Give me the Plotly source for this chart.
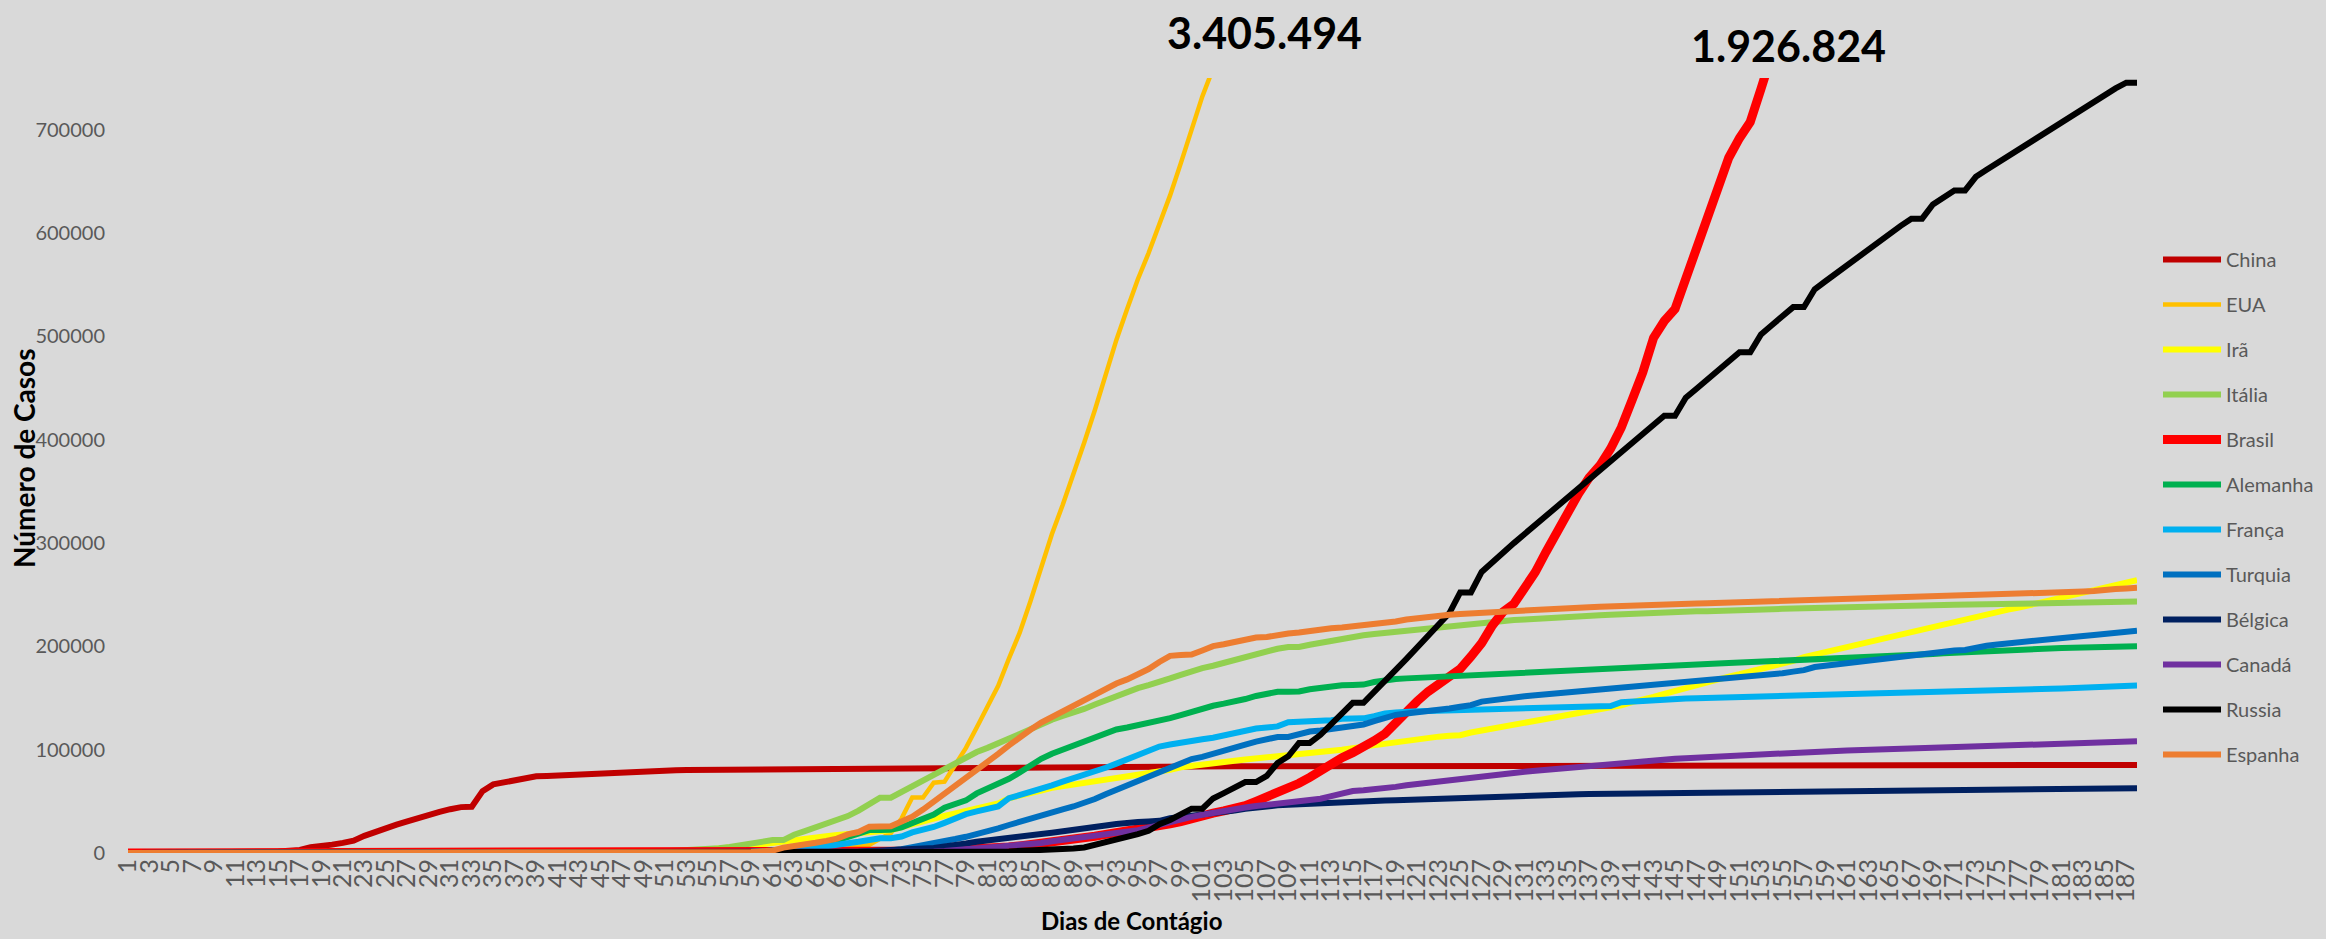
import plotly.graph_objects as go

# ---------------- data (cases in thousands, day 1..188) ----------------
days = list(range(1, 189))

china_k = [
    0, 0, 0, 0, 0, 0, 0, 0, 0, 0,
    0, 0.5, 0.6, 0.9, 1.4, 2.1, 2.9, 5.5, 6.1, 8.1,
    9.8, 11.9, 16.6, 19.7, 23.7, 27.4, 30.6, 34.1, 36.8, 39.8,
    42.4, 44.4, 44.8, 59.9, 66.4, 68.4, 70.5, 72.4, 74.2, 74.6,
    75.1, 75.6, 77.0, 77.0, 77.2, 77.8, 78.2, 78.6, 78.9, 79.4,
    79.9, 80.2, 80.3, 80.4, 80.6, 80.7, 80.7, 80.8, 80.8, 80.9,
    80.9, 81.0, 81.0, 81.0, 81.1, 81.1, 81.2, 81.3, 81.4, 81.5,
    81.6, 81.7, 81.7, 81.8, 81.9, 82.0, 82.1, 82.2, 82.3, 82.4,
    82.5, 82.6, 82.7, 82.8, 82.9, 82.9, 83.0, 83.0, 83.1, 83.1,
    83.1, 83.2, 83.2, 83.2, 83.3, 83.3, 83.4, 83.8, 83.8, 83.8,
    83.8, 83.9, 83.9, 83.9, 83.9, 83.9, 83.9, 83.9, 83.9, 83.9,
    83.9, 83.9, 83.9, 83.9, 83.9, 83.9, 84.0, 84.0, 84.0, 84.0,
    84.0, 84.0, 84.0, 84.0, 84.0, 84.0, 84.1, 84.1, 84.1, 84.1,
    84.1, 84.1, 84.1, 84.1, 84.1, 84.1, 84.1, 84.1, 84.1, 84.1,
    84.2, 84.2, 84.2, 84.2, 84.2, 84.2, 84.2, 84.2, 84.2, 84.2,
    84.2, 84.2, 84.2, 84.2, 84.2, 84.3, 84.3, 84.4, 84.4, 84.5,
    84.5, 84.5, 84.6, 84.6, 84.7, 84.7, 84.7, 84.8, 84.8, 84.8,
    84.8, 84.8, 84.9, 84.9, 84.9, 84.9, 84.9, 85.0, 85.0, 85.0,
    85.0, 85.0, 85.0, 85.1, 85.1, 85.1, 85.2, 85.2,
]

eua_k = [
    0, 0, 0, 0, 0, 0, 0, 0, 0, 0,
    0, 0, 0, 0, 0, 0, 0, 0, 0, 0,
    0, 0, 0, 0, 0, 0, 0, 0, 0, 0,
    0, 0, 0, 0, 0, 0, 0, 0, 0, 0,
    0, 0, 0, 0, 0, 0, 0, 0, 0, 0,
    0, 0, 0.03, 0.05, 0.1, 0.15, 0.2, 0.3, 0.4, 0.5,
    0.7, 1.0, 1.3, 1.7, 2.2, 2.7, 3.5, 4.6, 6.4, 7.8,
    13.7, 19.1, 33.3, 53.7, 53.7, 68.0, 69.0, 85.0, 101.7, 121.5,
    140.9, 161.8, 188.2, 213.2, 243.6, 275.4, 308.7, 336.8, 366.3, 397.1,
    428.7, 462.8, 496.5, 526.4, 555.3, 580.6, 607.7, 636.4, 667.6, 699.7,
    732.2, 759.1, 784.3,
]

ira_k = [
    0, 0, 0, 0, 0, 0, 0, 0, 0, 0,
    0, 0, 0, 0, 0, 0, 0, 0, 0, 0,
    0, 0, 0, 0, 0, 0, 0, 0, 0, 0,
    0, 0, 0, 0, 0, 0, 0, 0, 0, 0,
    0, 0, 0.02, 0.03, 0.04, 0.06, 0.1, 0.14, 0.25, 0.39,
    0.6, 1.0, 1.5, 2.3, 2.9, 3.5, 4.7, 5.8, 7.2, 8.5,
    10.0, 11.0, 12.5, 14.0, 15.0, 16.2, 17.4, 18.4, 19.6, 20.6,
    21.6, 22.0, 25.0, 28.0, 31.0, 34.0, 36.0, 38.3, 40.5, 42.5,
    45.0, 48.0, 53.0, 56.0, 58.5, 60.5, 63.0, 64.6, 66.2, 68.2,
    69.0, 70.5, 72.0, 73.3, 74.9, 76.4, 78.5, 80.5, 83.0, 84.5,
    86.0, 87.0, 88.2, 89.3, 90.5, 91.5, 92.6, 93.7, 94.6, 95.6,
    96.5, 97.0, 98.5, 100.0, 101.5, 103.0, 104.2, 105.6, 107.0, 108.4,
    109.5, 110.8, 112.6, 113.5, 114.0, 116.6, 118.4, 120.2, 122.4, 124.6,
    125.5, 127.5, 129.0, 131.0, 133.5, 135.0, 137.0, 139.0, 141.0, 143.0,
    146.0, 148.0, 151.0, 154.0, 157.0, 160.0, 162.5, 165.0, 168.0, 170.7,
    173.0, 175.5, 178.0, 180.5, 183.0, 186.0, 189.5, 192.0, 194.5, 197.0,
    199.5, 202.0, 204.5, 207.0, 209.5, 211.5, 214.0, 216.0, 218.5, 221.0,
    223.0, 225.5, 228.0, 230.5, 233.0, 235.5, 237.5, 240.0, 242.5, 245.0,
    247.5, 250.0, 252.5, 255.0, 257.5, 260.0, 262.2, 264.0,
]

italia_k = [
    0, 0, 0, 0, 0, 0, 0, 0, 0, 0,
    0, 0, 0, 0, 0, 0, 0, 0, 0, 0,
    0, 0, 0, 0, 0, 0, 0, 0, 0, 0,
    0, 0, 0, 0, 0, 0, 0, 0, 0, 0,
    0, 0.02, 0.06, 0.16, 0.23, 0.32, 0.45, 0.66, 0.89, 1.13,
    1.69, 2.04, 2.50, 3.09, 3.86, 4.64, 5.88, 7.38, 9.17, 10.15,
    12.46, 12.46, 17.66, 21.16, 24.75, 27.98, 31.51, 35.71, 41.04, 47.02,
    53.58, 53.58, 59.14, 63.93, 69.18, 74.39, 80.59, 86.50, 92.47, 97.69,
    101.74, 105.79, 110.57, 115.24, 119.83, 124.63, 128.95, 132.55, 135.59, 139.42,
    143.63, 147.58, 152.27, 156.36, 159.52, 162.49, 165.16, 168.94, 172.43, 175.93,
    178.97, 181.23, 183.96, 187.33, 189.97, 192.99, 195.35, 197.68, 199.41, 199.41,
    201.51, 203.59, 205.46, 207.43, 209.33, 210.72, 211.94, 213.01, 214.46, 215.86,
    217.19, 218.27, 219.07, 219.81, 221.22, 222.10, 223.10, 223.89, 224.76, 225.44,
    225.89, 226.70, 227.36, 228.01, 228.66, 229.33, 229.86, 230.16, 230.56, 231.14,
    231.73, 232.25, 232.66, 233.00, 233.20, 233.52, 233.84, 234.01, 234.53, 234.80,
    235.28, 235.56, 235.76, 236.14, 236.31, 236.65, 236.99, 237.29, 237.50, 237.83,
    238.01, 238.16, 238.28, 238.50, 238.72, 238.83, 239.16, 239.41, 239.71, 239.96,
    240.14, 240.31, 240.44, 240.58, 240.76, 240.96, 241.18, 241.42, 241.61, 241.82,
    241.96, 242.15, 242.36, 242.64, 242.83, 243.06, 243.23, 243.34,
]

brasil_k = [
    0, 0, 0, 0, 0, 0, 0, 0, 0, 0,
    0, 0, 0, 0, 0, 0, 0, 0, 0, 0,
    0, 0, 0, 0, 0, 0, 0, 0, 0, 0,
    0, 0, 0, 0, 0, 0, 0, 0, 0, 0,
    0, 0, 0, 0, 0, 0, 0, 0, 0, 0,
    0, 0, 0.002, 0.002, 0.002, 0.003, 0.008, 0.013, 0.019, 0.025,
    0.025, 0.031, 0.038, 0.052, 0.077, 0.151, 0.162, 0.200, 0.321, 0.372,
    0.62, 0.79, 1.02, 1.55, 1.92, 2.25, 2.55, 2.99, 3.42, 3.90,
    4.26, 4.58, 5.72, 6.84, 8.04, 9.06, 10.36, 11.13, 12.16, 14.03,
    16.17, 18.09, 19.64, 20.73, 22.19, 23.43, 25.26, 28.32, 30.43, 33.68,
    36.66, 38.65, 40.74, 43.08, 45.76, 50.04, 54.04, 59.32, 63.10, 67.45,
    73.24, 79.69, 87.19, 92.20, 97.10, 101.83, 108.62, 115.46, 126.61, 135.77,
    146.89, 156.06, 162.70, 169.59, 178.21, 190.14, 203.17, 220.29, 233.51, 241.08,
    255.37, 271.89, 291.58, 310.09, 330.89, 347.40, 363.21, 374.90, 391.22, 411.82,
    438.24, 465.17, 498.44, 514.85, 526.45, 555.38, 584.02, 614.94, 645.77, 672.85,
    691.76, 707.41, 739.50, 772.42,
]

alemanha_k = [
    0, 0, 0, 0, 0, 0, 0, 0, 0, 0,
    0, 0, 0, 0, 0, 0, 0, 0, 0, 0,
    0, 0, 0, 0, 0, 0, 0, 0, 0, 0,
    0, 0, 0, 0, 0, 0, 0, 0, 0, 0,
    0, 0, 0, 0, 0, 0, 0, 0, 0, 0,
    0.13, 0.16, 0.20, 0.26, 0.48, 0.67, 0.80, 1.04, 1.18, 1.46,
    1.9, 2.9, 4.6, 5.8, 7.3, 9.3, 12.3, 15.3, 19.8, 22.2,
    22.2, 22.4, 24.9, 29.1, 33.0, 37.3, 43.9, 47.0, 50.9, 57.7,
    62.1, 66.9, 71.8, 77.9, 84.8, 91.2, 96.1, 100.1, 103.4, 107.7,
    112.0, 116.0, 119.5, 121.5, 123.5, 125.5, 127.5, 130.5, 133.5, 137.0,
    140.0, 142.5, 144.5, 146.5, 149.0, 152.0, 154.0, 156.0, 156.0, 156.3,
    158.5, 160.0, 161.5, 162.3, 162.6, 163.0, 165.5, 167.5, 168.3, 169.0,
    169.5, 170.0, 170.7, 171.2, 171.8, 172.5, 173.2, 173.8, 174.3, 174.8,
    175.3, 175.8, 176.3, 177.0, 177.6, 178.2, 178.8, 179.3, 179.8, 180.3,
    180.7, 181.0, 181.3, 181.6, 181.9, 182.2, 182.6, 183.0, 183.4, 183.8,
    184.2, 184.6, 185.0, 185.4, 185.8, 186.2, 186.6, 187.0, 187.4, 187.8,
    188.2, 188.6, 189.0, 189.6, 190.2, 190.8, 191.4, 192.0, 192.6, 193.2,
    193.8, 194.4, 195.0, 195.6, 196.2, 196.6, 197.0, 197.4, 197.8, 198.1,
    198.4, 198.7, 199.0, 199.2, 199.4, 199.6, 199.8, 200.0,
]

franca_k = [
    0, 0, 0, 0, 0, 0, 0, 0, 0, 0,
    0, 0, 0, 0, 0, 0, 0, 0, 0, 0,
    0, 0, 0, 0, 0, 0, 0, 0, 0, 0,
    0, 0, 0, 0, 0, 0, 0, 0, 0, 0,
    0, 0, 0, 0, 0, 0, 0, 0, 0, 0,
    0.1, 0.19, 0.21, 0.29, 0.42, 0.65, 0.95, 1.13, 1.21, 1.78,
    2.3, 2.9, 3.7, 4.5, 5.4, 6.6, 7.7, 9.1, 10.9, 12.6,
    14.3, 14.3, 16.0, 19.9, 22.3, 25.2, 29.2, 33.4, 37.6, 40.2,
    42.0, 45.0, 53.0, 56.0, 58.0, 62.0, 65.5, 69.0, 72.0, 76.0,
    79.0, 82.5, 86.5, 90.5, 94.5, 98.5, 103.0, 105.0, 107.0, 108.5,
    110.0, 111.5, 114.0, 117.0, 119.0, 120.5, 121.5, 122.5, 126.5, 127.0,
    127.0, 127.2, 128.5, 130.0, 130.0, 130.3, 132.5, 135.0, 136.0, 137.0,
    137.2, 137.4, 137.6, 137.8, 138.0, 138.5, 139.0, 139.5, 140.0, 140.3,
    140.5, 140.7, 140.9, 141.1, 141.3, 141.5, 141.7, 142.0, 142.3, 146.0,
    146.8, 147.5, 148.5, 149.0, 149.3, 149.5, 149.7, 149.9, 150.1, 150.3,
    150.5, 150.7, 150.9, 151.2, 151.5, 151.8, 152.1, 152.5, 152.9, 153.3,
    153.6, 153.9, 154.2, 154.5, 154.8, 155.0, 155.0, 155.2, 155.6, 156.0,
    156.3, 156.6, 156.9, 157.2, 157.5, 157.8, 158.0, 158.2, 158.5, 158.9,
    159.3, 159.8, 160.3, 160.8, 161.0, 161.3, 161.7, 162.0,
]

turquia_k = [
    0, 0, 0, 0, 0, 0, 0, 0, 0, 0,
    0, 0, 0, 0, 0, 0, 0, 0, 0, 0,
    0, 0, 0, 0, 0, 0, 0, 0, 0, 0,
    0, 0, 0, 0, 0, 0, 0, 0, 0, 0,
    0, 0, 0, 0, 0, 0, 0, 0, 0, 0,
    0, 0, 0, 0, 0, 0, 0, 0, 0, 0,
    0, 0, 0, 0, 0, 0.05, 0.1, 0.19, 0.36, 0.67,
    1.5, 2.4, 3.6, 5.7, 7.4, 9.2, 10.8, 13.5, 15.7, 18.1,
    20.9, 23.9, 27.1, 30.2, 34.1, 36.5, 39.0, 42.3, 45.0, 48.0,
    52.2, 56.9, 61.0, 65.1, 69.4, 74.2, 78.5, 82.3, 86.3, 90.9,
    93.0, 95.6, 98.7, 101.8, 104.9, 107.8, 110.1, 112.3, 112.3, 114.7,
    117.6, 118.5, 120.2, 122.4, 124.0, 124.4, 127.7, 131.0, 133.7, 135.0,
    136.0, 137.1, 138.7, 139.8, 141.5, 143.1, 146.5, 148.0, 150.0, 150.6,
    151.6, 152.6, 153.5, 154.5, 155.2, 155.9, 156.8, 157.8, 158.8, 159.8,
    160.8, 161.8, 162.8, 163.9, 164.8, 165.6, 166.4, 167.4, 168.3, 169.2,
    170.2, 171.2, 172.1, 173.0, 174.0, 175.5, 177.0, 180.0, 181.3, 182.5,
    183.7, 185.0, 186.5, 187.8, 189.0, 190.3, 191.5, 192.5, 193.5, 194.5,
    196.0, 196.5, 199.0, 200.5, 201.8, 203.0, 204.0, 205.0, 206.0, 207.0,
    208.0, 209.0, 210.0, 211.0, 212.0, 213.0, 214.0, 215.0,
]

belgica_k = [
    0, 0, 0, 0, 0, 0, 0, 0, 0, 0,
    0, 0, 0, 0, 0, 0, 0, 0, 0, 0,
    0, 0, 0, 0, 0, 0, 0, 0, 0, 0,
    0, 0, 0, 0, 0, 0, 0, 0, 0, 0,
    0, 0, 0, 0, 0, 0, 0, 0, 0, 0,
    0, 0, 0, 0, 0, 0, 0, 0, 0, 0,
    0.27, 0.31, 0.40, 0.56, 0.69, 0.89, 1.09, 1.24, 1.49, 1.80,
    2.26, 2.82, 3.40, 3.74, 4.27, 4.94, 6.24, 7.28, 9.13, 10.84,
    11.9, 12.8, 13.96, 15.35, 16.77, 18.43, 19.69, 20.81, 22.19, 23.40,
    24.98, 26.67, 28.02, 29.65, 30.0, 30.6, 31.1, 33.6, 34.8, 35.8,
    36.1, 37.2, 39.5, 41.0, 42.8, 44.3, 45.3, 46.1, 46.7, 47.3,
    47.9, 48.5, 49.0, 49.5, 49.9, 50.3, 50.6, 50.8, 51.0, 51.4,
    52.0, 52.6, 53.0, 53.4, 53.8, 54.0, 54.3, 54.6, 55.0, 55.3,
    55.6, 55.8, 56.0, 56.3, 56.5, 56.8, 57.0, 57.1, 57.3, 57.5,
    57.7, 57.8, 58.0, 58.2, 58.4, 58.6, 58.7, 58.8, 58.9, 59.1,
    59.2, 59.3, 59.4, 59.6, 59.7, 59.8, 60.0, 60.1, 60.2, 60.3,
    60.4, 60.5, 60.6, 60.7, 60.8, 60.9, 61.0, 61.1, 61.2, 61.3,
    61.4, 61.5, 61.6, 61.7, 61.8, 61.8, 61.9, 62.0, 62.0, 62.1,
    62.2, 62.2, 62.3, 62.4, 62.5, 62.6, 62.7, 62.7,
]

canada_k = [
    0, 0, 0, 0, 0, 0, 0, 0, 0, 0,
    0, 0, 0, 0, 0, 0, 0, 0, 0, 0,
    0, 0, 0, 0, 0, 0, 0, 0, 0, 0,
    0, 0, 0, 0, 0, 0, 0, 0, 0, 0,
    0, 0, 0, 0, 0, 0, 0, 0, 0, 0,
    0, 0, 0, 0, 0, 0, 0, 0, 0, 0,
    0, 0, 0, 0, 0, 0, 0, 0, 0, 0,
    0.4, 0.6, 0.7, 0.9, 1.1, 1.4, 2.0, 2.8, 3.4, 4.0,
    4.7, 5.6, 6.3, 7.4, 8.5, 9.6, 11.3, 12.5, 14.4, 15.8,
    16.6, 17.9, 19.1, 20.7, 22.1, 24.5, 27.5, 30.0, 32.5, 35.0,
    37.0, 39.0, 41.0, 42.5, 44.0, 45.5, 46.5, 47.5, 48.5, 49.5,
    50.8, 52.5, 55.0, 57.5, 60.0, 60.8, 61.5, 62.3, 64.0, 65.5,
    66.8, 68.0, 69.0, 70.2, 71.5, 72.8, 74.5, 75.5, 76.3, 77.5,
    78.6, 79.5, 80.5, 81.5, 82.5, 83.3, 84.0, 85.0, 86.0, 86.8,
    88.0, 89.0, 89.8, 90.5, 91.2, 91.8, 92.4, 93.0, 93.6, 94.2,
    94.8, 95.4, 96.0, 96.5, 97.0, 97.4, 97.8, 98.2, 98.5, 98.8,
    99.1, 99.4, 99.7, 100.0, 100.3, 100.6, 100.9, 101.2, 101.5, 101.8,
    102.1, 102.4, 102.7, 103.0, 103.4, 103.8, 104.2, 104.6, 105.0, 105.4,
    105.8, 106.1, 106.4, 106.7, 107.0, 107.4, 107.8, 108.1,
]

russia_k = [
    0, 0, 0, 0, 0, 0, 0, 0, 0, 0,
    0, 0, 0, 0, 0, 0, 0, 0, 0, 0,
    0, 0, 0, 0, 0, 0, 0, 0, 0, 0,
    0, 0, 0, 0, 0, 0, 0, 0, 0, 0,
    0, 0, 0, 0, 0, 0, 0, 0, 0, 0,
    0, 0, 0, 0, 0, 0, 0, 0, 0, 0,
    0, 0, 0, 0, 0, 0, 0, 0, 0, 0,
    0.2, 0.25, 0.3, 0.4, 0.5, 0.6, 0.7, 0.8, 0.9, 1.0,
    1.1, 1.3, 1.5, 1.8, 2.3, 2.8, 3.0, 3.5, 4.4, 5.4,
    8.0, 10.1, 11.9, 14.5, 18.3, 21.5, 27.9, 32.0, 36.8, 42.9,
    42.9, 52.8, 57.9, 62.8, 68.6, 68.6, 74.6, 87.1, 93.6, 106.5,
    106.5, 114.4, 124.1, 134.7, 145.3, 145.3, 155.4, 165.9, 177.2, 187.9,
    198.7, 209.7, 221.3, 232.2, 252.2, 252.2, 272.0, 281.8, 290.7, 299.9,
    308.7, 317.6, 326.4, 335.9, 344.5, 353.4, 362.3, 370.7, 379.1, 387.6,
    396.6, 405.8, 414.3, 423.2, 423.2, 440.5, 449.3, 458.1, 467.1, 476.0,
    484.6, 484.6, 501.8, 510.8, 519.5, 528.3, 528.3, 545.5, 553.3, 561.1,
    569.1, 576.9, 584.7, 592.3, 599.7, 606.9, 613.9, 613.9, 627.6, 634.4,
    641.2, 641.2, 654.4, 661.2, 667.9, 674.5, 681.3, 687.9, 694.2, 700.8,
    707.3, 713.9, 720.5, 727.2, 733.7, 739.9, 745.5, 745.5,
]

espanha_k = [
    0, 0, 0, 0, 0, 0, 0, 0, 0, 0,
    0, 0, 0, 0, 0, 0, 0, 0, 0, 0,
    0, 0, 0, 0, 0, 0, 0, 0, 0, 0,
    0, 0, 0, 0, 0, 0, 0, 0, 0, 0,
    0, 0, 0, 0, 0, 0, 0, 0, 0, 0,
    0.08, 0.12, 0.17, 0.22, 0.26, 0.40, 0.50, 0.67, 1.07, 1.70,
    2.28, 5.23, 6.39, 7.80, 9.94, 11.75, 13.91, 17.96, 20.41, 25.37,
    25.37, 25.8, 30.5, 35.1, 42.0, 49.5, 57.8, 65.7, 73.2, 80.1,
    88.0, 95.9, 104.1, 112.1, 119.2, 126.2, 131.6, 136.7, 141.9, 148.2,
    153.2, 158.3, 164.0, 168.0, 172.5, 178.0, 184.9, 190.8, 191.7, 192.0,
    196.0, 200.2, 202.0, 204.2, 207.0, 208.5, 209.0, 211.0, 212.5, 213.4,
    215.2, 216.6, 217.5, 218.3, 219.3, 221.4, 221.9, 222.5, 224.0, 226.0,
    227.4, 228.3, 229.5, 230.5, 231.4, 232.0, 233.0, 233.8, 234.3, 234.8,
    235.2, 235.6, 236.0, 236.4, 236.8, 237.3, 237.8, 238.3, 238.8, 239.3,
    239.6, 239.9, 240.2, 240.5, 240.8, 241.1, 241.4, 241.7, 242.0, 242.3,
    242.5, 242.7, 242.9, 243.1, 243.3, 243.6, 243.9, 244.2, 244.5, 244.8,
    245.1, 245.4, 245.7, 246.0, 246.3, 246.6, 246.9, 247.2, 247.5, 247.8,
    248.1, 248.4, 248.7, 249.0, 249.3, 249.7, 250.1, 250.6, 251.0, 251.5,
    252.0, 252.5, 253.0, 253.5, 255.0, 255.5, 256.0, 256.6,
]

country_names = ["China", "EUA", "Irã", "Itália", "Brasil", "Alemanha",
                 "França", "Turquia", "Bélgica", "Canadá", "Russia", "Espanha"]
country_values = [china_k, eua_k, ira_k, italia_k, brasil_k, alemanha_k,
                  franca_k, turquia_k, belgica_k, canada_k, russia_k, espanha_k]
country_colors = ["#C00000", "#FFC000", "#FFFF00", "#92D050", "#FF0000", "#00B050",
                  "#00B0F0", "#0070C0", "#002060", "#7030A0", "#000000", "#ED7D31"]
line_widths = [6, 4.5, 6, 6, 9, 6, 6, 6, 6, 6, 6, 6]

y_ticks = [0, 100000, 200000, 300000, 400000, 500000, 600000, 700000]
x_ticks = list(range(1, 188, 2))
top_labels = ["3.405.494", "1.926.824"]

# ---------------- figure ----------------
W, H = 2326, 939
L, R, T, B = 128, 189, 78, 86
PW, PH = W - L - R, H - T - B

fig = go.Figure()
for name, vals, col, lw in zip(country_names, country_values, country_colors, line_widths):
    fig.add_trace(go.Scatter(
        x=days[:len(vals)], y=[v * 1000 for v in vals],
        mode="lines", name=name, legendgroup=name,
        line=dict(color=col, width=lw),
        hoverinfo="x+y+name",
    ))

def px_to_paper_x(px):
    return (px - L) / PW

def px_to_paper_y(py):
    return (H - B - py) / PH

TXT = "#595959"
FONT = "Lato, 'Open Sans', sans-serif"

fig.update_layout(
    width=W, height=H,
    margin=dict(l=L, r=R, t=T, b=B, pad=0, autoexpand=False),
    paper_bgcolor="#D9D9D9", plot_bgcolor="#D9D9D9",
    font=dict(family=FONT, size=20, color=TXT),
    showlegend=True,
    legend=dict(
        x=px_to_paper_x(2158), y=px_to_paper_y(240),
        xanchor="left", yanchor="top",
        bgcolor="rgba(0,0,0,0)", borderwidth=0,
        font=dict(family=FONT, size=20, color=TXT),
        tracegroupgap=16, itemwidth=58,
    ),
    xaxis=dict(
        range=[1, 188], tickmode="array", tickvals=x_ticks,
        ticktext=[str(v) for v in x_ticks], tickangle=-90,
        showgrid=False, zeroline=False, showline=False, ticks="",
        tickfont=dict(family=FONT, size=25, color=TXT), automargin=False,
    ),
    yaxis=dict(
        range=[0, 750000], tickmode="array", tickvals=y_ticks,
        ticktext=[str(v) for v in y_ticks],
        showgrid=False, zeroline=False, showline=False, ticks="",
        tickfont=dict(family=FONT, size=20, color=TXT), automargin=False,
        ticklabelstandoff=22,
    ),
    annotations=[
        dict(text="<b>Dias de Contágio</b>", xref="paper", yref="paper",
             x=px_to_paper_x(1131), y=px_to_paper_y(921), xanchor="center", yanchor="middle",
             showarrow=False, font=dict(family=FONT, size=24, color="#000000")),
        dict(text="<b>Número de Casos</b>", xref="paper", yref="paper",
             x=px_to_paper_x(24), y=px_to_paper_y(458), xanchor="center", yanchor="middle",
             textangle=-90, showarrow=False, font=dict(family=FONT, size=28, color="#000000")),
        dict(text="<b>%s</b>" % top_labels[0], xref="paper", yref="paper",
             x=px_to_paper_x(1264), y=px_to_paper_y(32), xanchor="center", yanchor="middle",
             showarrow=False, font=dict(family=FONT, size=43, color="#000000")),
        dict(text="<b>%s</b>" % top_labels[1], xref="paper", yref="paper",
             x=px_to_paper_x(1788), y=px_to_paper_y(45), xanchor="center", yanchor="middle",
             showarrow=False, font=dict(family=FONT, size=43, color="#000000")),
    ],
)

fig.write_html("out.html", config={"displayModeBar": False},
               post_script="document.body.style.margin='0';document.body.style.overflow='hidden';")
